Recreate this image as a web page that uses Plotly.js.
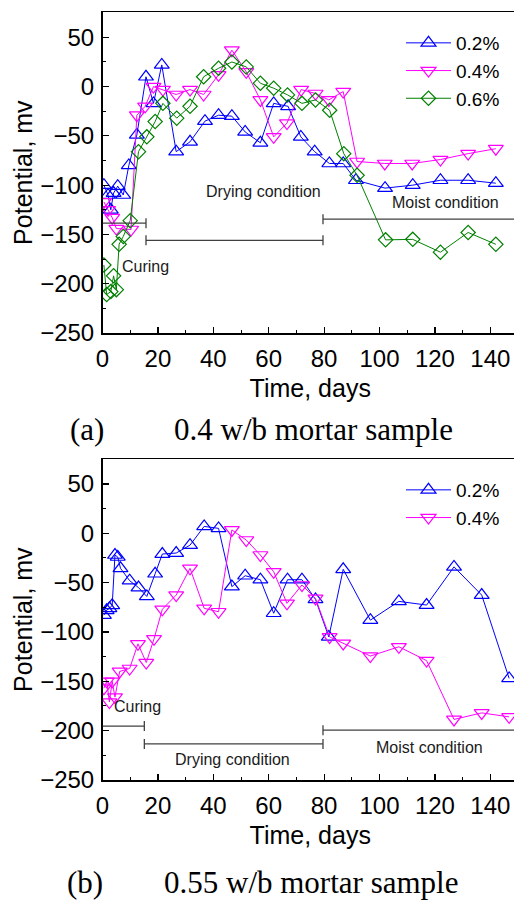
<!DOCTYPE html>
<html><head><meta charset="utf-8">
<script src="https://cdn.plot.ly/plotly-3.0.1.min.js"></script>
<style>html,body{margin:0;padding:0;overflow:hidden;background:#fff}#chart{width:518px;height:901px}</style>
</head><body><div id="chart"></div>
<script>
// ---------- Panel (a): 0.4 w/b ----------
const a02_x = [0.5, 2, 3, 4, 5.5, 7.5, 9.5, 12.4, 15.7, 18.4, 21.4, 26.6, 31.6, 37, 41.9, 46.7, 51.5, 57, 61.8, 67, 71.6, 76.6, 81.9, 86.9, 91.5, 102, 112, 122, 132, 142];
const a02_y = [-100, -110, -125, -108, -101, -110, -80, -49, 10, -17, 22, -66, -56, -35, -29, -30, -46, -57, -17, -20, -51, -66, -78, -78, -95, -103, -100, -95, -95, -98];
const a04_x = [0.5, 2, 3.5, 5, 10.3, 12.4, 15.4, 18.4, 21.8, 26.6, 31.6, 36.5, 41.9, 46.7, 51.9, 57, 61.8, 66.6, 71.7, 76.9, 81.7, 86.9, 91.9, 101.9, 111.8, 122, 132, 142];
const a04_y = [-117, -125, -133, -144, -145, -29, -20, 0, -3, -8, -3, -8, 12, 37, 15, -13.5, -51, -37, -3, -7, -13.5, -5, -76, -78, -78, -74, -68, -63];
const a06_x = [0.5, 1.5, 3, 4, 5, 6, 7.5, 10, 13, 16, 19, 21.8, 26.8, 31.6, 36.5, 41.9, 46.7, 51.9, 57, 61.8, 66.8, 72, 76.9, 82, 87.1, 91.9, 102.2, 112, 122, 132, 142];
const a06_y = [-181, -211, -208, -192, -206, -160, -152, -136, -66, -51, -35.5, -17, -32, -20, 10, 18.6, 25, 20, 3.4, -1.6, -8.4, -17, -13.5, -24, -68, -90, -155.5, -155, -168, -148, -160];

// ---------- Panel (b): 0.55 w/b ----------
const b02_x = [0.5, 1.5, 2.5, 3.5, 4.5, 5.5, 6.5, 9.8, 13, 16, 19, 21.6, 26.6, 31.6, 36.7, 41.9, 46.7, 51.5, 57, 61.8, 66.8, 72, 76.9, 81.7, 86.9, 96.7, 107, 117, 126.9, 136.9, 146.8];
const b02_y = [-83, -78, -76, -73, -22, -24, -35.5, -48, -55, -64, -41, -21, -20, -12, 7, 5, -54, -43, -47, -81, -47, -47, -67, -105, -36.5, -88, -69, -72.7, -34, -62.6, -147];
const b04_x = [0.5, 1.5, 2.5, 3.5, 4.5, 6.2, 9.8, 12.8, 15.8, 18.6, 21.6, 26.6, 31.6, 36.7, 41.9, 46.7, 51.9, 57, 61.8, 66.6, 72, 76.9, 82, 86.9, 96.7, 107, 117, 126.9, 136.9, 146.8];
const b04_y = [-157, -150, -171, -150, -166, -140, -137, -112, -131, -107, -77, -62.6, -35.5, -76, -79.5, 3.4, -6.8, -22, -39, -71, -52.4, -66, -105, -111.6, -124.4, -115, -129, -188.6, -182, -186];

const seriesNames = ['0.2%', '0.4%', '0.6%'];
const phaseLabels = ['Curing', 'Drying condition', 'Moist condition'];
// phase boundaries (days): curing start, drying start, moist start, end
const phasesA = [0, 15.7, 79.6, 150];
const phasesB = [0, 15.1, 79.6, 150];
const xTicks = [0, 20, 40, 60, 80, 100, 120, 140];

const FONT = 'Liberation Sans, Arial, sans-serif';
const SERIF = 'Liberation Serif, Times New Roman, serif';
const colors = ['#0000ff', '#ff00ff', '#008000'];
const symbols = ['triangle-up-open', 'triangle-down-open', 'diamond-open'];
const sizes = [13, 13, 11];

function tr(x, y, i, xa, ya, leg) {
  return {x: x, y: y, type: 'scatter', mode: 'lines+markers', name: seriesNames[i],
    xaxis: xa, yaxis: ya, legend: leg,
    line: {color: colors[i], width: 1},
    marker: {symbol: symbols[i], size: sizes[i], color: colors[i], line: {width: 1.2, color: colors[i]}}};
}
const data = [
  tr(a02_x, a02_y, 0, 'x', 'y', 'legend'),
  tr(a04_x, a04_y, 1, 'x', 'y', 'legend'),
  tr(a06_x, a06_y, 2, 'x', 'y', 'legend'),
  tr(b02_x, b02_y, 0, 'x2', 'y2', 'legend2'),
  tr(b04_x, b04_y, 1, 'x2', 'y2', 'legend2')
];

const barColor = '#404040';
const shapes = [];
function bar(xr, yr, x0, x1, y, capL, capR) {
  shapes.push({type: 'line', xref: xr, yref: yr, x0: x0, x1: x1, y0: y, y1: y, line: {color: barColor, width: 1.3}});
  [[capL, x0], [capR, x1]].forEach(function (c) {
    if (c[0]) shapes.push({type: 'line', xref: xr, yref: yr, x0: c[1], x1: c[1], ysizemode: 'pixel', yanchor: y, y0: -5, y1: 5, line: {color: barColor, width: 1.3}});
  });
}
bar('x', 'y', phasesA[0], phasesA[1], -138.6, false, true);
bar('x', 'y', phasesA[1], phasesA[2], -156, true, true);
bar('x', 'y', phasesA[2], phasesA[3], -134.5, true, false);
bar('x2', 'y2', phasesB[0], phasesB[1], -195.4, false, true);
bar('x2', 'y2', phasesB[1], phasesB[2], -213.4, true, true);
bar('x2', 'y2', phasesB[2], phasesB[3], -199.5, true, false);

function ann(xr, yr, x, y, text, xanchor) {
  return {xref: xr, yref: yr, x: x, y: y, text: text, showarrow: false, xanchor: xanchor || 'center', yanchor: 'middle',
    font: {family: FONT, size: 16, color: '#1a1a1a'}};
}
function cap(x, y, text, xanchor) {
  return {xref: 'paper', yref: 'paper', x: x, y: y, text: text, showarrow: false, xanchor: xanchor, yanchor: 'middle',
    font: {family: SERIF, size: 31, color: '#000'}};
}
const annotations = [
  ann('x', 'y', 6.3, -182.5, phaseLabels[0], 'left'),
  ann('x', 'y', 58, -106.5, phaseLabels[1]),
  ann('x', 'y', 124, -118, phaseLabels[2]),
  ann('x2', 'y2', 3.3, -176, phaseLabels[0], 'left'),
  ann('x2', 'y2', 47.1, -229, phaseLabels[1]),
  ann('x2', 'y2', 118, -217, phaseLabels[2]),
  cap(87 / 518, 1 - 430 / 901, '(a)', 'center'),
  cap(172 / 518, 1 - 430 / 901, '0.4 w/b mortar sample', 'left'),
  cap(85 / 518, 1 - 882 / 901, '(b)', 'center'),
  cap(162 / 518, 1 - 882 / 901, '0.55 w/b mortar sample', 'left')
];

function xax(anchor) {
  return {anchor: anchor, domain: [102.5 / 518, 1], range: [0, 150], tickvals: xTicks,
    ticks: 'inside', ticklen: 6, tickwidth: 1.2, tickcolor: '#000',
    minor: {ticks: 'inside', ticklen: 3, dtick: 10, tick0: 0, tickcolor: '#000', tickwidth: 1},
    showline: true, linecolor: '#000', linewidth: 1.5, mirror: true,
    showgrid: false, zeroline: false, automargin: false,
    tickfont: {family: FONT, size: 24, color: '#000'}, ticklabelstandoff: 4,
    title: {text: 'Time, days', font: {family: FONT, size: 25, color: '#000'}, standoff: 8}};
}
function yax(anchor, dom, top) {
  return {anchor: anchor, domain: dom, range: [-250, top], tick0: 0, dtick: 50,
    ticks: 'inside', ticklen: 6, tickwidth: 1.2, tickcolor: '#000',
    minor: {ticks: 'inside', ticklen: 3, dtick: 25, tick0: 0, tickcolor: '#000', tickwidth: 1},
    showline: true, linecolor: '#000', linewidth: 1.5, mirror: true,
    showgrid: false, zeroline: false, automargin: false,
    tickfont: {family: FONT, size: 24, color: '#000'}, ticklabelstandoff: 2,
    title: {text: 'Potential, mv', font: {family: FONT, size: 25, color: '#000'}, standoff: 0}};
}
function leg(y) {
  return {x: 401 / 518, y: y, xanchor: 'left', yanchor: 'top', bgcolor: 'rgba(0,0,0,0)',
    font: {family: FONT, size: 19, color: '#000'}, itemwidth: 45, tracegroupgap: 0};
}

const layout = {
  width: 518, height: 901, margin: {l: 0, r: 0, t: 0, b: 0},
  paper_bgcolor: '#fff', plot_bgcolor: '#fff', font: {family: FONT},
  xaxis: xax('y'), yaxis: yax('x', [1 - 333 / 901, 1 - 12.3 / 901], 75.4),
  xaxis2: xax('y2'), yaxis2: yax('x2', [1 - 780 / 901, 1 - 459.3 / 901], 75),
  legend: leg(1 - 24 / 901), legend2: leg(1 - 471 / 901),
  shapes: shapes, annotations: annotations
};
Plotly.newPlot('chart', data, layout, {displayModeBar: false, staticPlot: true});
</script>
</body></html>
